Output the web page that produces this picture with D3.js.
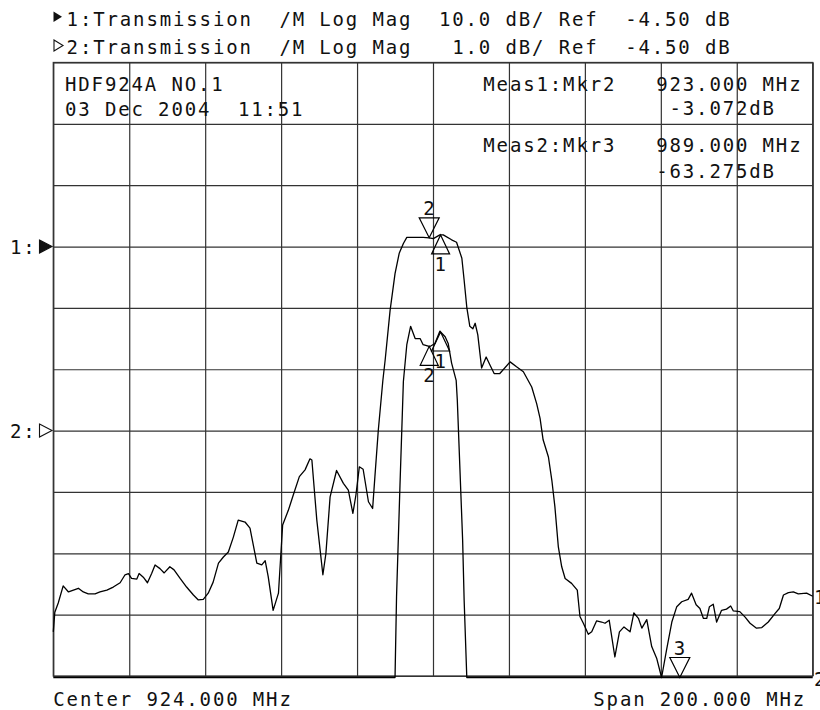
<!DOCTYPE html>
<html lang="en">
<head>
<meta charset="UTF-8">
<title>HDF924A NO.1 Transmission</title>
<script src="https://d3js.org/d3.v7.min.js"></script>
<style>
  body { margin: 0; background: #fff; }
  svg text {
    font-family: "DejaVu Sans Mono", monospace;
    font-size: 19px;
    letter-spacing: 1.86px;
    white-space: pre;
    fill: #111;
  }
  .grid line { stroke: #333; stroke-width: 1.2; }
  .grid path { display: none; }
  .trace { fill: none; stroke: #000; stroke-width: 1.3; stroke-linejoin: round; }
  .mkr { fill: none; stroke: #000; stroke-width: 1.2; }
</style>
</head>
<body>
<svg width="820" height="710"></svg>
<script>
// sweep settings
const centerMHz = 924.0, spanMHz = 200.0;
const refLevel = [-4.50, -4.50];      // dB, channel 1 / 2
const dbPerDiv = [10.0, 1.0];
const refDiv = [7, 4];                // reference line, divisions from bottom

const headerLines = [
  "1:Transmission  /M Log Mag  10.0 dB/ Ref  -4.50 dB",
  "2:Transmission  /M Log Mag   1.0 dB/ Ref  -4.50 dB"
];
const infoLines = ["HDF924A NO.1", "03 Dec 2004  11:51"];

// trace 1 (10 dB/div)
const trace1Freq = [824.0,824.4,825.3,826.6,828.0,829.3,830.6,831.9,833.2,835.0,836.3,838.1,839.8,841.6,842.9,843.8,844.6,846.0,846.6,847.7,848.8,849.9,850.8,852.1,853.2,854.7,855.8,857.4,859.1,860.9,862.2,863.5,864.8,866.1,867.5,868.8,870.1,871.4,872.7,874.5,875.8,877.6,878.9,879.8,880.6,881.9,883.3,884.4,885.9,887.2,888.8,890.3,891.6,892.1,893.4,895.0,895.8,896.9,898.6,900.4,901.7,902.9,903.7,904.6,905.6,907.0,908.1,908.7,909.6,910.8,911.4,912.7,914.0,915.1,916.2,917.1,921.4,923.0,924.1,925.8,926.7,928.9,930.2,931.6,932.2,932.9,933.7,934.5,935.1,935.8,936.8,938.0,939.0,940.1,941.6,944.3,946.0,947.8,950.0,951.3,952.2,953.0,954.4,955.3,956.1,957.0,957.9,958.8,960.5,962.0,962.7,963.6,964.9,965.8,967.1,968.4,969.3,970.4,971.9,973.1,974.3,975.9,976.9,978.1,979.0,980.3,981.6,982.9,984.2,985.5,986.9,988.2,989.5,991.2,992.1,993.3,994.3,995.2,996.1,996.8,997.8,998.7,1000.0,1001.3,1002.4,1003.1,1004.8,1006.2,1007.5,1009.2,1010.6,1012.3,1014.1,1015.2,1016.3,1017.6,1018.9,1020.2,1022.4,1024.0];
const trace1dB = [-67.3,-64.1,-62.6,-59.8,-60.8,-60.5,-60.2,-60.8,-61.1,-61.1,-60.8,-60.5,-60.0,-59.3,-58.0,-57.8,-58.6,-58.7,-57.8,-58.4,-59.3,-57.8,-56.4,-57.0,-57.7,-56.7,-57.2,-58.6,-60.0,-61.3,-62.1,-62.0,-61.0,-59.2,-56.1,-55.1,-54.3,-51.9,-49.1,-49.4,-50.4,-56.1,-56.4,-55.7,-58.3,-63.8,-61.0,-49.9,-47.5,-45.0,-42.0,-40.9,-39.1,-39.3,-49.1,-58.0,-54.5,-45.3,-41.0,-43.1,-44.2,-48.0,-45.0,-40.4,-40.8,-46.1,-47.2,-42.0,-34.4,-26.3,-23.0,-14.9,-8.9,-5.6,-4.0,-3.0,-3.0,-3.07,-3.2,-2.6,-2.6,-3.4,-3.8,-6.4,-10.0,-14.4,-17.5,-17.9,-17.0,-18.9,-24.3,-22.5,-23.8,-25.2,-25.2,-23.3,-24.1,-24.9,-27.4,-30.1,-32.5,-36.0,-38.8,-42.6,-46.9,-53.4,-56.7,-58.6,-59.4,-60.5,-64.8,-65.9,-67.7,-67.3,-65.5,-65.7,-65.9,-65.4,-71.4,-67.3,-66.5,-67.3,-64.2,-65.1,-66.7,-65.3,-69.7,-71.6,-76.0,-70.3,-65.7,-63.2,-62.4,-62.0,-61.0,-62.9,-63.5,-65.1,-65.1,-63.2,-62.8,-65.7,-63.8,-63.6,-63.1,-63.9,-64.0,-64.9,-65.9,-66.7,-66.6,-65.7,-64.3,-63.5,-61.3,-60.9,-60.8,-61.1,-61.0,-61.5];

// trace 2 (1 dB/div); values below the screen are off scale
const trace2Freq = [824.0,914.0,914.4,915.3,916.2,917.1,918.1,919.3,920.6,921.4,923.2,924.5,925.8,927.2,928.0,928.9,930.1,930.4,931.1,931.8,932.2,932.9,1024.0];
const trace2dB = [-50,-50,-7.2,-5.4,-3.7,-3.1,-2.8,-3.0,-3.0,-3.1,-3.13,-3.08,-2.88,-2.97,-3.08,-3.4,-3.68,-4.0,-5.14,-6.28,-7.26,-50,-50];

// markers
const markerTrace = [1, 1, 2, 2, 2];
const markerId = ["2", "1", "2", "1", "3"];
const markerFreq = [923.0, 926.0, 923.0, 926.0, 989.0];
const markerDown = [true, false, false, false, true];

// marker readouts
const measName = ["Meas1:Mkr2", "Meas2:Mkr3"];
const measFreq = [923.0, 989.0];
const measValue = [-3.072, -63.275];

const svg = d3.select("svg");
const box = { left: 53.3, right: 812.7, top: 62.5, bottom: 676 };
const pitch = 13.3;

const x = d3.scaleLinear()
    .domain([centerMHz - spanMHz / 2, centerMHz + spanMHz / 2])
    .range([box.left, box.right]);

const yScales = [0, 1].map(i => d3.scaleLinear()
    .domain([refLevel[i] - refDiv[i] * dbPerDiv[i], refLevel[i] + (10 - refDiv[i]) * dbPerDiv[i]])
    .range([box.bottom, box.top]));

// grid
svg.append("g")
   .attr("class", "grid")
   .attr("transform", `translate(0,${box.bottom})`)
   .call(d3.axisBottom(x)
       .tickValues(d3.range(11).map(i => x.domain()[0] + i * spanMHz / 10))
       .tickSize(-(box.bottom - box.top)).tickFormat(""));

svg.append("g")
   .attr("class", "grid")
   .attr("transform", `translate(${box.left},0)`)
   .call(d3.axisLeft(yScales[0])
       .tickValues(d3.range(11).map(i => yScales[0].domain()[0] + i * dbPerDiv[0]))
       .tickSize(-(box.right - box.left)).tickFormat(""));

svg.append("rect")
   .attr("x", box.left).attr("y", box.top)
   .attr("width", box.right - box.left).attr("height", box.bottom - box.top)
   .attr("fill", "none").attr("stroke", "#333").attr("stroke-width", 1.3);

// keep off-scale points on the screen edge
function yClip(i, v) {
    return Math.max(box.top, Math.min(box.bottom + 1.5, yScales[i](v)));
}

function interp(fs, vs, f) {
    const k = d3.bisectLeft(fs, f);
    if (k <= 0) return vs[0];
    if (k >= fs.length) return vs[vs.length - 1];
    const t = (f - fs[k - 1]) / (fs[k] - fs[k - 1]);
    return vs[k - 1] + t * (vs[k] - vs[k - 1]);
}

const traces = [[trace1Freq, trace1dB], [trace2Freq, trace2dB]];

traces.forEach(([fs, vs], i) => {
    const line = d3.line()
        .x(d => x(d[0]))
        .y(d => yClip(i, d[1]));
    svg.append("path")
       .attr("class", "trace")
       .attr("d", line(fs.map((f, k) => [f, vs[k]])));

    // trace number at right end
    const yEnd = yClip(i, vs[vs.length - 1]);
    svg.append("text").attr("x", 814).attr("y", yEnd + 8).text(String(i + 1));
});

// markers
markerId.forEach((id, k) => {
    const t = markerTrace[k] - 1;
    const mx = x(markerFreq[k]);
    const my = yClip(t, interp(traces[t][0], traces[t][1], markerFreq[k]));
    if (markerDown[k]) {
        svg.append("path").attr("class", "mkr")
           .attr("d", `M${mx - 10},${my - 20}L${mx + 10},${my - 20}L${mx},${my}Z`);
        svg.append("text").attr("x", mx - 6).attr("y", my - 23).text(id);
    } else {
        svg.append("path").attr("class", "mkr")
           .attr("d", `M${mx},${my}L${mx + 9},${my + 19}L${mx - 9},${my + 19}Z`);
        svg.append("text").attr("x", mx - 6).attr("y", my + 36).text(id);
    }
});

// header
headerLines.forEach((s, i) => {
    svg.append("text").attr("x", box.left + pitch).attr("y", 25.5 + i * 28).text(s);
});
svg.append("path").attr("d", "M53.5,11.5L62,16.8L53.5,22Z").attr("fill", "#111");
svg.append("path").attr("d", "M54,40L63,45.5L54,51Z")
   .attr("fill", "none").attr("stroke", "#111").attr("stroke-width", 1.1);

// info block
infoLines.forEach((s, i) => {
    svg.append("text").attr("x", 65).attr("y", 91 + i * 24.5).text(s);
});

// marker readouts
const measX = 483.3;
const measY = [[90.5, 115], [152, 177.5]];
measName.forEach((name, i) => {
    svg.append("text").attr("x", measX).attr("y", measY[i][0])
       .text(`${name}   ${measFreq[i].toFixed(3)} MHz`);
    const val = `${measValue[i].toFixed(3)}dB`;
    svg.append("text").attr("x", measX + (22 - val.length) * pitch).attr("y", measY[i][1]).text(val);
});

// reference position indicators
[0, 1].forEach(i => {
    const yr = yScales[i](refLevel[i]);
    svg.append("text").attr("x", 10).attr("y", yr + 7.5).text(`${i + 1}:`);
    svg.append("path")
       .attr("d", `M39.5,${yr - 6.5}L52,${yr}L39.5,${yr + 6.5}Z`)
       .attr("fill", i === 0 ? "#111" : "none")
       .attr("stroke", "#111").attr("stroke-width", 1.1);
});

// footer
svg.append("text").attr("x", box.left).attr("y", 706)
   .text(`Center ${centerMHz.toFixed(3)} MHz`);
svg.append("text").attr("x", 593.3).attr("y", 706)
   .text(`Span ${spanMHz.toFixed(3)} MHz`);
</script>
</body>
</html>
